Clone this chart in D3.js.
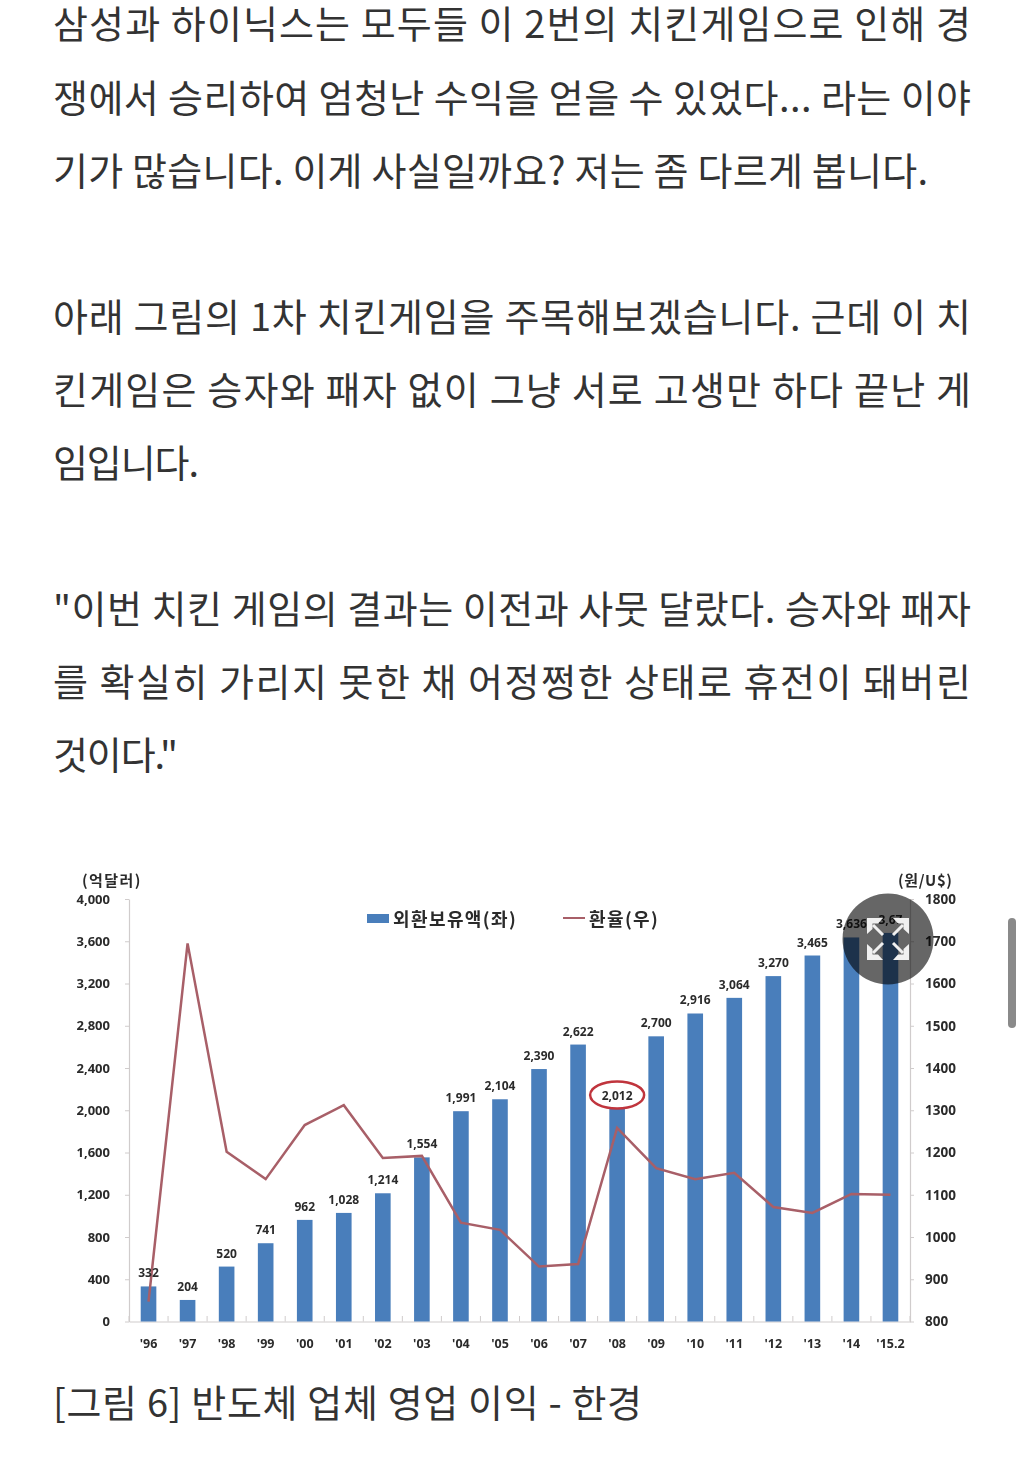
<!DOCTYPE html>
<html><head><meta charset="utf-8">
<script src="https://cdn.jsdelivr.net/npm/d3@7"></script>
<style>html,body{margin:0;padding:0;background:#fff;overflow:hidden}svg{display:block}</style>
</head><body><svg id="c" width="1024" height="1477"></svg>
<script>
const categories=["'96","'97","'98","'99","'00","'01","'02","'03","'04","'05","'06","'07","'08","'09","'10","'11","'12","'13","'14","'15.2"];
const reserves=[332,204,520,741,962,1028,1214,1554,1991,2104,2390,2622,2012,2700,2916,3064,3270,3465,3636,3679];
const barLabels=["332","204","520","741","962","1,028","1,214","1,554","1,991","2,104","2,390","2,622","2,012","2,700","2,916","3,064","3,270","3,465","3,636","3,67"];
const exchange=[847,1695,1202,1137,1265,1312,1187,1192,1034,1017,930,936,1258,1163,1137,1152,1071,1057,1102,1100];
const leftTicks=[0,400,800,1200,1600,2000,2400,2800,3200,3600,4000];
const rightTicks=[800,900,1000,1100,1200,1300,1400,1500,1600,1700,1800];
const paragraphLines=[
 ["삼성과 하이닉스는 모두들 이 2번의 치킨게임으로 인해 경",53,971,38],
 ["쟁에서 승리하여 엄청난 수익을 얻을 수 있었다... 라는 이야",53,971,112],
 ["기가 많습니다. 이게 사실일까요? 저는 좀 다르게 봅니다.",53,928,185],
 ["아래 그림의 1차 치킨게임을 주목해보겠습니다. 근데 이 치",53,971,331],
 ["킨게임은 승자와 패자 없이 그냥 서로 고생만 하다 끝난 게",53,971,404],
 ["임입니다.",53,199,477],
 ["\"이번 치킨 게임의 결과는 이전과 사뭇 달랐다. 승자와 패자",53,971,623],
 ["를 확실히 가리지 못한 채 어정쩡한 상태로 휴전이 돼버린",53,971,696],
 ["것이다.\"",53,178,769],
 ["[그림 6] 반도체 업체 영업 이익 - 한경",53,642,1417]
];
const svg=d3.select("#c");
const KR="'Noto Sans CJK KR','Noto Sans',sans-serif";
svg.append("g").selectAll("text").data(paragraphLines).join("text")
 .attr("x",d=>d[1]).attr("y",d=>d[3]).attr("textLength",d=>d[2]-d[1]).attr("lengthAdjust","spacing")
 .attr("font-family",KR).attr("font-size",38).attr("font-weight",400).attr("fill","#333").text(d=>d[0]);

const defs=svg.append("defs");
defs.append("filter").attr("id","soft").append("feGaussianBlur").attr("stdDeviation",0.45);
const g=svg.append("g").attr("filter","url(#soft)");
const x=d3.scaleBand().domain(categories).range([129,910]).paddingInner(0.6).paddingOuter(0.3);
const yL=d3.scaleLinear().domain([0,4000]).range([1321.5,899]);
const yR=d3.scaleLinear().domain([800,1800]).range([1321.5,899]);
const cx=c=>x(c)+x.bandwidth()/2;
const axisStyle=a=>{a.select(".domain").attr("stroke","#d0cccc").attr("stroke-width",1.2);a.selectAll(".tick line").attr("stroke","#d0cccc");a.selectAll("text").attr("font-family","'Open Sans',sans-serif").attr("font-weight",700).attr("fill","#2b2b2b");};
const left=g.append("g").attr("transform","translate(129,0)").call(d3.axisLeft(yL).tickValues(leftTicks).tickFormat(d3.format(",")).tickSize(4).tickSizeOuter(0).tickPadding(15));
axisStyle(left);left.selectAll("text").attr("font-size",13);
const right=g.append("g").attr("transform","translate(910,0)").call(d3.axisRight(yR).tickValues(rightTicks).tickFormat(d3.format("d")).tickSize(4).tickSizeOuter(0).tickPadding(11));
axisStyle(right);right.selectAll("text").attr("font-size",13.5);
const bottom=g.append("g").attr("transform","translate(0,1321.5)").call(d3.axisBottom(x).tickSize(0).tickPadding(18));
axisStyle(bottom);bottom.selectAll("text").attr("font-size",12.5);
g.append("g").selectAll("line").data(d3.range(0,21)).join("line")
 .attr("x1",i=>129+i*(910-129)/20).attr("x2",i=>129+i*(910-129)/20).attr("y1",1321.5).attr("y2",1316).attr("stroke","#d0cccc");

g.append("g").selectAll("rect").data(categories).join("rect")
 .attr("x",c=>x(c)).attr("width",x.bandwidth())
 .attr("y",(c,i)=>yL(reserves[i])).attr("height",(c,i)=>yL(0)-yL(reserves[i])).attr("fill","#4a7ebb");
g.append("path").datum(exchange).attr("fill","none").attr("stroke","#a85f67").attr("stroke-width",2.5)
 .attr("d",d3.line().x((d,i)=>cx(categories[i])).y(d=>yR(d)));
g.append("g").selectAll("text").data(categories).join("text")
 .attr("x",c=>cx(c)).attr("y",(c,i)=>yL(reserves[i])-9).attr("text-anchor","middle")
 .attr("font-family","'Open Sans',sans-serif").attr("font-weight",700).attr("font-size",12).attr("fill","#2b2b2b")
 .text((c,i)=>barLabels[i]);
const hi=categories.indexOf("'08");
g.append("ellipse").attr("cx",cx("'08")).attr("cy",yL(reserves[hi])-14).attr("rx",27).attr("ry",13.5)
 .attr("fill","none").attr("stroke","#c0343c").attr("stroke-width",2.5);

const unit=(t,xx,yy,ls)=>g.append("text").attr("x",xx).attr("y",yy).attr("font-family",KR).attr("font-weight",700).attr("font-size",15).attr("letter-spacing",ls).attr("fill","#2b2b2b").text(t);
unit("(억달러)",82,886,1.4);unit("(원/U$)",898,886,0.6);
g.append("rect").attr("x",367).attr("y",914).attr("width",22).attr("height",9).attr("fill","#4a7ebb");
g.append("text").attr("x",393).attr("y",926).attr("font-family",KR).attr("font-weight",700).attr("font-size",18).attr("letter-spacing",1.4).attr("fill","#2b2b2b").text("외환보유액(좌)");
g.append("line").attr("x1",563).attr("x2",585).attr("y1",918).attr("y2",918).attr("stroke","#a85f67").attr("stroke-width",2);
g.append("text").attr("x",589).attr("y",926).attr("font-family",KR).attr("font-weight",700).attr("font-size",18).attr("letter-spacing",1.4).attr("fill","#2b2b2b").text("환율(우)");

// expand button overlay
const btn=svg.append("g").attr("transform","translate(888,939)");
btn.append("circle").attr("r",45.5).attr("fill","#000").attr("fill-opacity",0.6);
const arrows=[[-1,-1],[1,-1],[-1,1],[1,1]];
const arrowG=btn.append("g").selectAll("g").data(arrows).join("g");
arrowG.append("path").attr("d",([a,b])=>`M${a*21},${b*21}H${a*5}L${a*10},${b*15.5}H${a*15.5}V${b*10}L${a*21},${b*5}Z`).attr("fill","#f0f0f0");
arrowG.append("path").attr("d",([a,b])=>`M${a*5},${b*4}L${a*15},${b*14}`).attr("fill","none").attr("stroke","#f0f0f0").attr("stroke-width",3);
// scrollbar
svg.append("rect").attr("x",1008).attr("y",918).attr("width",8).attr("height",110).attr("rx",4).attr("fill","#8a8a8a");
</script></body></html>
